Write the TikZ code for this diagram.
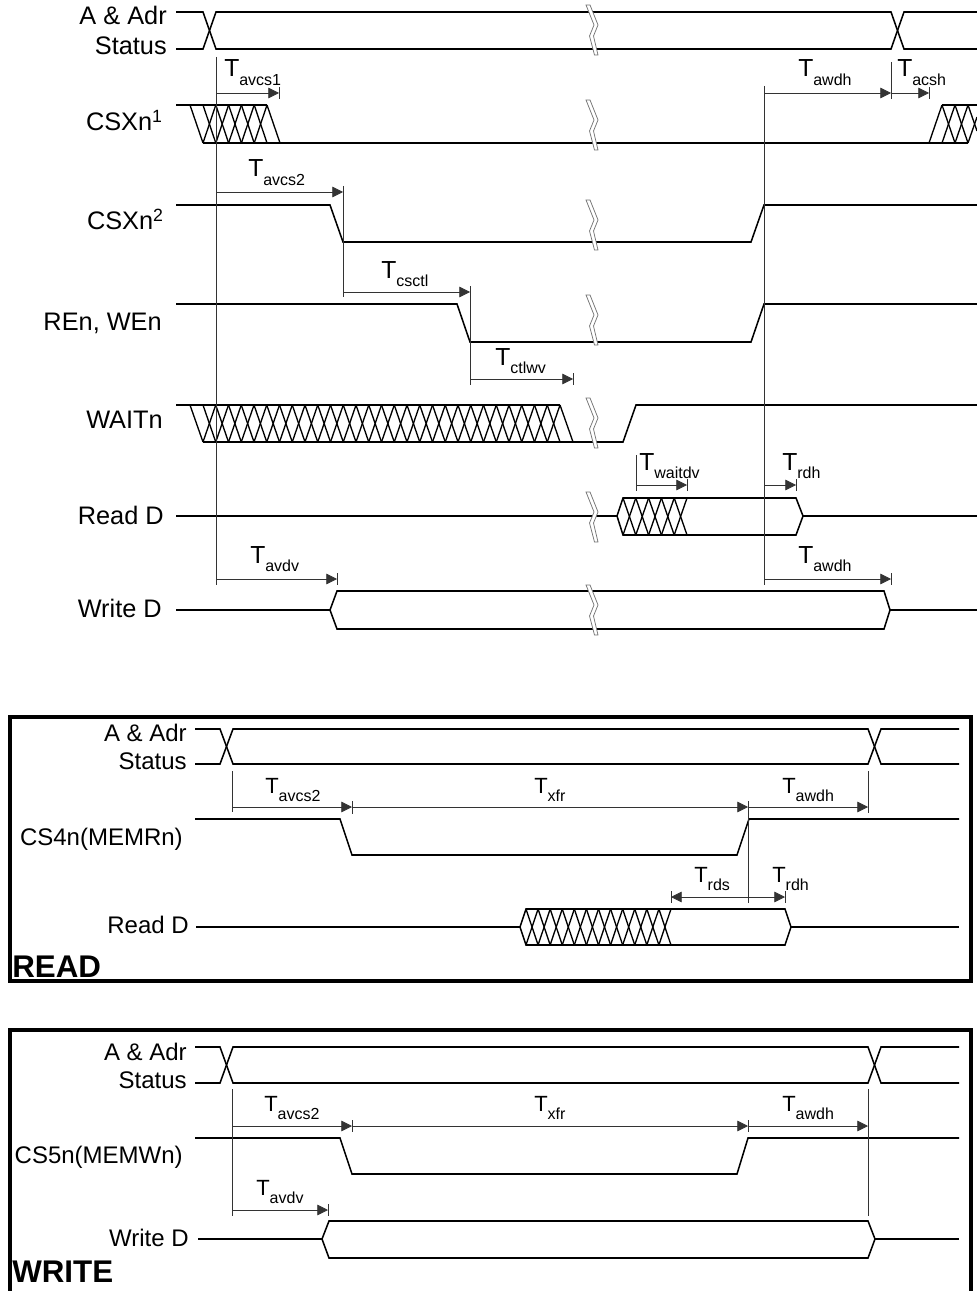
\documentclass[tikz,border=0pt]{standalone}
\usepackage{fontspec}
\setmainfont{Liberation Sans}
\usetikzlibrary{arrows.meta}

\tikzset{
    sig/.style={line width=1.15pt,black,line join=miter},
    hatchline/.style={line width=1pt,black},
    thinline/.style={line width=0.6pt,black!80},
    timearrow/.style={thinline,-{Stealth[inset=0pt,length=8pt,width=8pt]}},
    breakmark/.style={line width=0.55pt,black!55,fill=white},
    panel/.style={line width=2.6pt,black},
    siglabel/.style={anchor=base east,inner sep=0pt,font=\fontsize{19}{21}\selectfont},
    tlabel/.style={anchor=base west,inner sep=0pt,font=\fontsize{18.5}{20}\selectfont},
    panellabel/.style={anchor=base west,inner sep=0pt,font=\fontsize{23.5}{25}\selectfont\bfseries}
}

\newcommand{\subfnt}{\fontsize{12}{13}\selectfont}
% name, subscript, x, baseline
\newcommand{\tname}[4]{\node[tlabel] (#1) at (#3,#4) {T\raisebox{-6.5pt}{\subfnt #2}};}
% start, first crossing, second crossing, end, high, low
\newcommand{\addrbus}[6]{
    \draw[sig] (#1,#5) -- (#2,#5) -- (#2+13,#6) -- (#3,#6) -- (#3+13,#5) -- (#4,#5);
    \draw[sig] (#1,#6) -- (#2,#6) -- (#2+13,#5) -- (#3,#5) -- (#3+13,#6) -- (#4,#6);
}
% first x, cells, pitch, high, low
\newcommand{\hatchcells}[5]{
    \foreach \k in {1,...,#2} {
        \draw[hatchline] ({#1+(\k-1)*#3},#4) -- ({#1+\k*#3},#5);
        \draw[hatchline] ({#1+(\k-1)*#3},#5) -- ({#1+\k*#3},#4);
    }
}
% top of the mark
\newcommand{\sigbreak}[1]{
    \draw[breakmark,shift={(0,#1)}] (586,0) -- (594,20) -- (589.5,31) -- (594.5,50)
        -- (598,50) -- (593.5,31) -- (598,20) -- (590,0) -- cycle;
}

\begin{document}
\begin{tikzpicture}[x=0.75pt,y=-0.75pt]
    \useasboundingbox (0,0) rectangle (977,1291);

    % Main timing: signal names
    \node[siglabel] (adrA) at (167,25) {A \& Adr};
    \node[siglabel] (statusA) at (167,55) {Status};
    \node[siglabel] (csxOne) at (163,131) {CSXn\textsuperscript{1}};
    \node[siglabel] (csxTwo) at (164,230) {CSXn\textsuperscript{2}};
    \node[siglabel] (renWen) at (162,330) {REn, WEn};
    \node[siglabel] (waitN) at (163,428) {WAITn};
    \node[siglabel] (readA) at (164,524) {Read D};
    \node[siglabel] (writeA) at (162,617) {Write D};

    % Main timing: signals
    \addrbus{176}{203}{891}{977}{12}{49}
    \draw[sig] (176,105) -- (267,105);
    \draw[sig] (203,143) -- (968,143);
    \draw[hatchline] (190,105) -- (203,143);
    \hatchcells{203}{5}{12.8}{105}{143}
    \draw[hatchline] (267,105) -- (280,143);
    \draw[hatchline] (929,143) -- (942,105);
    \hatchcells{942}{2}{13}{105}{143}
    \draw[hatchline] (968,105) -- (977,131);
    \draw[hatchline] (968,143) -- (977,117);
    \draw[sig] (942,105) -- (977,105);
    \draw[sig] (176,205) -- (330,205) -- (343,242) -- (751,242) -- (764,205) -- (977,205);
    \draw[sig] (176,304) -- (457,304) -- (470,342) -- (751,342) -- (764,304) -- (977,304);
    \draw[sig] (176,405) -- (560,405);
    \draw[hatchline] (190,405) -- (203,442);
    \hatchcells{203}{28}{12.75}{405}{442}
    \draw[hatchline] (560,405) -- (573,442);
    \draw[sig] (203,442) -- (623,442) -- (636,405) -- (977,405);
    \draw[sig] (176,516) -- (617,516) -- (623,498) -- (796,498) -- (803,516) -- (796,535) -- (623,535) -- (617,516);
    \draw[sig] (803,516) -- (977,516);
    \hatchcells{623}{5}{12.8}{498}{535}
    \draw[sig] (176,610) -- (330,610) -- (337,591) -- (884,591) -- (890,610) -- (884,629) -- (337,629) -- (330,610);
    \draw[sig] (890,610) -- (977,610);

    % Main timing: breaks
    \foreach \top in {5,100,200,295,398,492,585} {
        \sigbreak{\top}
    }

    % Main timing: measures
    \draw[thinline] (216,57) -- (216,585);
    \draw[thinline] (764,86) -- (764,585);
    \draw[thinline] (279,87) -- (279,99);
    \draw[thinline] (891,62) -- (891,99);
    \draw[thinline] (929,87) -- (929,99);
    \draw[thinline] (343,186) -- (343,297);
    \draw[thinline] (470,286) -- (470,385);
    \draw[thinline] (573,373) -- (573,385);
    \draw[thinline] (636,455) -- (636,491);
    \draw[thinline] (687,479) -- (687,491);
    \draw[thinline] (796,479) -- (796,491);
    \draw[thinline] (891,573) -- (891,585);
    \draw[thinline] (337,573) -- (337,585);
    \draw[timearrow] (216,93) -- (279,93);
    \draw[timearrow] (764,93) -- (891,93);
    \draw[timearrow] (891,93) -- (929,93);
    \draw[timearrow] (216,192) -- (343,192);
    \draw[timearrow] (343,292) -- (470,292);
    \draw[timearrow] (470,379) -- (573,379);
    \draw[timearrow] (636,485) -- (687,485);
    \draw[timearrow] (764,485) -- (796,485);
    \draw[timearrow] (216,579) -- (337,579);
    \draw[timearrow] (764,579) -- (891,579);
    \tname{tAvcsOne}{avcs1}{224}{77}
    \tname{tAwdhA}{awdh}{798}{77}
    \tname{tAcsh}{acsh}{897}{77}
    \tname{tAvcsTwoA}{avcs2}{248}{177}
    \tname{tCsctl}{csctl}{381}{278}
    \tname{tCtlwv}{ctlwv}{495}{365}
    \tname{tWaitdv}{waitdv}{639}{470}
    \tname{tRdhA}{rdh}{782}{470}
    \tname{tAvdvA}{avdv}{250}{563}
    \tname{tAwdhB}{awdh}{798}{563}

    % READ panel
    \tikzset{
        siglabel/.append style={font=\fontsize{18}{20}\selectfont},
        tlabel/.append style={font=\fontsize{16.5}{19}\selectfont}
    }
    \draw[panel] (10,717) rectangle (971,981);
    \node[panellabel] (readTitle) at (12,977) {READ};
    \node[siglabel] (adrB) at (187,741) {A \& Adr};
    \node[siglabel] (statusB) at (187,769) {Status};
    \node[siglabel] (csFour) at (183,845) {CS4n(MEMRn)};
    \node[siglabel] (readB) at (189,933) {Read D};
    \addrbus{195}{220}{868}{959}{729}{764}
    \draw[sig] (195,819) -- (340,819) -- (352,855) -- (737,855) -- (749,819) -- (959,819);
    \draw[sig] (196,927) -- (520,927) -- (526,909) -- (785,909) -- (791,927) -- (785,945) -- (526,945) -- (520,927);
    \draw[sig] (791,927) -- (959,927);
    \hatchcells{526}{12}{12.08}{909}{945}
    \draw[thinline] (232,771) -- (232,812);
    \draw[thinline] (352,801) -- (352,814);
    \draw[thinline] (868,771) -- (868,813);
    \draw[thinline] (748,801) -- (748,903);
    \draw[thinline] (671,891) -- (671,903);
    \draw[thinline] (785,891) -- (785,903);
    \draw[timearrow] (232,807) -- (352,807);
    \draw[timearrow] (352,807) -- (748,807);
    \draw[timearrow] (748,807) -- (868,807);
    \draw[timearrow] (748,897) -- (671,897);
    \draw[timearrow] (748,897) -- (785,897);
    \tname{tAvcsTwoB}{avcs2}{265}{793}
    \tname{tXfrA}{xfr}{534}{793}
    \tname{tAwdhC}{awdh}{782}{793}
    \tname{tRds}{rds}{694}{882}
    \tname{tRdhB}{rdh}{772}{882}

    % WRITE panel
    \draw[panel] (10,1291) -- (10,1030) -- (971,1030) -- (971,1291);
    \node[panellabel] (writeTitle) at (12,1282) {WRITE};
    \node[siglabel] (adrC) at (187,1060) {A \& Adr};
    \node[siglabel] (statusC) at (187,1088) {Status};
    \node[siglabel] (csFive) at (183,1163) {CS5n(MEMWn)};
    \node[siglabel] (writeB) at (189,1246) {Write D};
    \addrbus{195}{220}{868}{959}{1047}{1083}
    \draw[sig] (195,1138) -- (340,1138) -- (352,1174) -- (737,1174) -- (748,1138) -- (959,1138);
    \draw[sig] (198,1239) -- (322,1239) -- (329,1221) -- (868,1221) -- (875,1239) -- (868,1258) -- (329,1258) -- (322,1239);
    \draw[sig] (875,1239) -- (959,1239);
    \draw[thinline] (232,1089) -- (232,1216);
    \draw[thinline] (868,1089) -- (868,1216);
    \draw[thinline] (352,1120) -- (352,1132);
    \draw[thinline] (748,1120) -- (748,1132);
    \draw[thinline] (328,1204) -- (328,1216);
    \draw[timearrow] (232,1126) -- (352,1126);
    \draw[timearrow] (352,1126) -- (748,1126);
    \draw[timearrow] (748,1126) -- (868,1126);
    \draw[timearrow] (232,1210) -- (328,1210);
    \tname{tAvcsTwoC}{avcs2}{264}{1111}
    \tname{tXfrB}{xfr}{534}{1111}
    \tname{tAwdhD}{awdh}{782}{1111}
    \tname{tAvdvB}{avdv}{256}{1195}
\end{tikzpicture}
\end{document}
